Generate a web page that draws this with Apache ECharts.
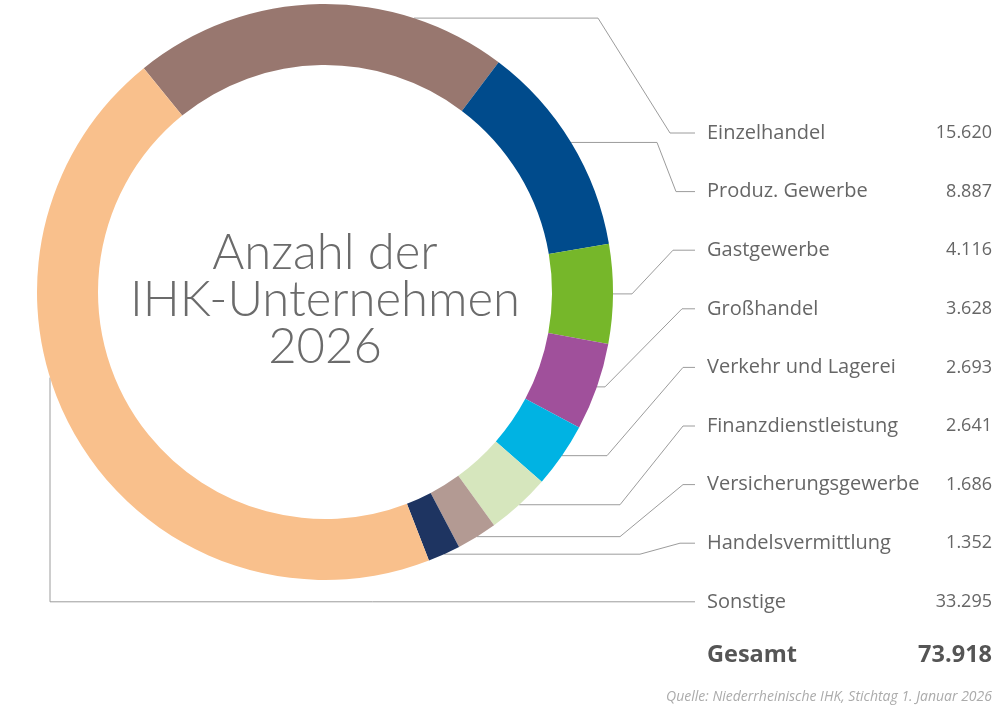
<!DOCTYPE html>
<html>
<head>
	<meta charset="utf-8">
	<title>Anzahl der IHK-Unternehmen 2026</title>
	<style type="text/css">
		html, body {
			margin: 0;
			padding: 0;
			background: #fff;
		}
		#main {
			width: 1000px;
			height: 714px;
		}
	</style>
	<script src="https://cdn.jsdelivr.net/npm/echarts@6/dist/echarts.min.js"></script>
</head>
<body>

	<div id="main"></div>

	<script type="text/javascript">
		// Daten (Stichtag 1. Januar 2026)
		var branchen = ['Einzelhandel', 'Produz. Gewerbe', 'Gastgewerbe', 'Großhandel', 'Verkehr und Lagerei',
			'Finanzdienstleistung', 'Versicherungsgewerbe', 'Handelsvermittlung', 'Sonstige'];
		var anzahl = [15620, 8887, 4116, 3628, 2693, 2641, 1686, 1352, 33295];
		var farben = ['#98776f', '#004b8c', '#76b72a', '#a0509b', '#00b3e3', '#d6e6bd', '#b39a93', '#1e3461', '#f9c08c'];
		var titel = 'Anzahl der\nIHK-Unternehmen\n2026';
		var quelle = 'Quelle: Niederrheinische IHK, Stichtag 1. Januar 2026';

		// layout
		var CX = 325, CY = 292, R_IN = 227, R_OUT = 288, START = 129;
		var ROW_TOP = 133, ROW_STEP = 58.6, LABEL_X = 707, LINE_END = 695;
		// where the leader lines bend (horizontal run end, diagonal end)
		var elbowX = [598, 657, 632, 605, 607, 620, 620, 640];
		var kneeX = [670, 676, 673, 682, 683, 683, 683, 680];

		var gesamt = anzahl.reduce(function (a, b) { return a + b; }, 0);

		function fmt(v) {
			return String(v).replace(/\B(?=(\d{3})+(?!\d))/g, '.');
		}

		function rowY(i) {
			return ROW_TOP + i * ROW_STEP;
		}

		function midAngle(i) {
			var cum = 0;
			for (var k = 0; k < i; k++) cum += anzahl[k];
			return START - (cum + anzahl[i] / 2) / gesamt * 360;
		}

		function onRing(deg) {
			var a = deg * Math.PI / 180;
			return [CX + R_OUT * Math.cos(a), CY - R_OUT * Math.sin(a)];
		}

		var list = [];
		for (var i = 0; i < branchen.length; i++) {
			list.push({ name: branchen[i], value: anzahl[i], itemStyle: { color: farben[i] } });
		}

		var labelRich = {
			n: { width: 200, align: 'left', fontSize: 20, color: '#666', fontFamily: 'Open Sans' },
			v: { width: 85, align: 'right', fontSize: 18, color: '#666', fontFamily: 'Open Sans' }
		};
		var sumRich = {
			gn: { width: 200, align: 'left', fontSize: 23.5, fontWeight: 'bold', fill: '#555', color: '#555', fontFamily: 'Open Sans' },
			gv: { width: 85, align: 'right', fontSize: 23.5, fontWeight: 'bold', fill: '#555', color: '#555', fontFamily: 'Open Sans' }
		};

		var chart = echarts.init(document.getElementById('main'));
		var option = {
			animation: false,
			backgroundColor: '#fff',
			graphic: [{
				type: 'text',
				x: CX,
				y: CY + 8,
				style: {
					text: titel,
					align: 'center',
					verticalAlign: 'middle',
					fontFamily: 'Lato',
					fontWeight: 300,
					fontSize: 49,
					lineHeight: 47,
					fill: '#6b6b6b'
				}
			}, {
				type: 'text',
				x: LABEL_X,
				y: 655,
				style: {
					text: '{gn|Gesamt}{gv|' + fmt(gesamt) + '}',
					rich: sumRich,
					verticalAlign: 'middle'
				}
			}, {
				type: 'text',
				x: 992,
				y: 697,
				style: {
					text: quelle,
					align: 'right',
					verticalAlign: 'middle',
					fontFamily: 'Open Sans',
					fontStyle: 'italic',
					fontSize: 14,
					fill: '#ababab'
				}
			}],
			series: [{
				type: 'pie',
				center: [CX, CY],
				radius: [R_IN, R_OUT],
				startAngle: START,
				clockwise: true,
				avoidLabelOverlap: false,
				silent: true,
				label: {
					show: true,
					position: 'outside',
					formatter: function (p) {
						return '{n|' + p.name + '}{v|' + fmt(p.value) + '}';
					},
					rich: labelRich
				},
				labelLine: {
					show: true,
					length: 10,
					length2: 10,
					lineStyle: { color: '#9c9c9c', width: 1 }
				},
				labelLayout: function (params) {
					var i = params.dataIndex;
					var y = rowY(i);
					var pts;
					if (i === branchen.length - 1) {
						// Sonstige: down the left side, then along the bottom
						var lx = 50;
						var ly = CY + Math.sqrt(R_OUT * R_OUT - (CX - lx) * (CX - lx));
						pts = [[lx, ly], [lx, y], [LINE_END, y]];
					} else {
						var a = i === 0 ? 72 : midAngle(i);
						var s = onRing(a);
						pts = [s, [elbowX[i], s[1]], [kneeX[i], y], [LINE_END, y]];
					}
					return {
						x: LABEL_X,
						y: y,
						align: 'left',
						verticalAlign: 'middle',
						labelLinePoints: pts
					};
				},
				data: list
			}]
		};

		chart.setOption(option);
	</script>
</body>
</html>
